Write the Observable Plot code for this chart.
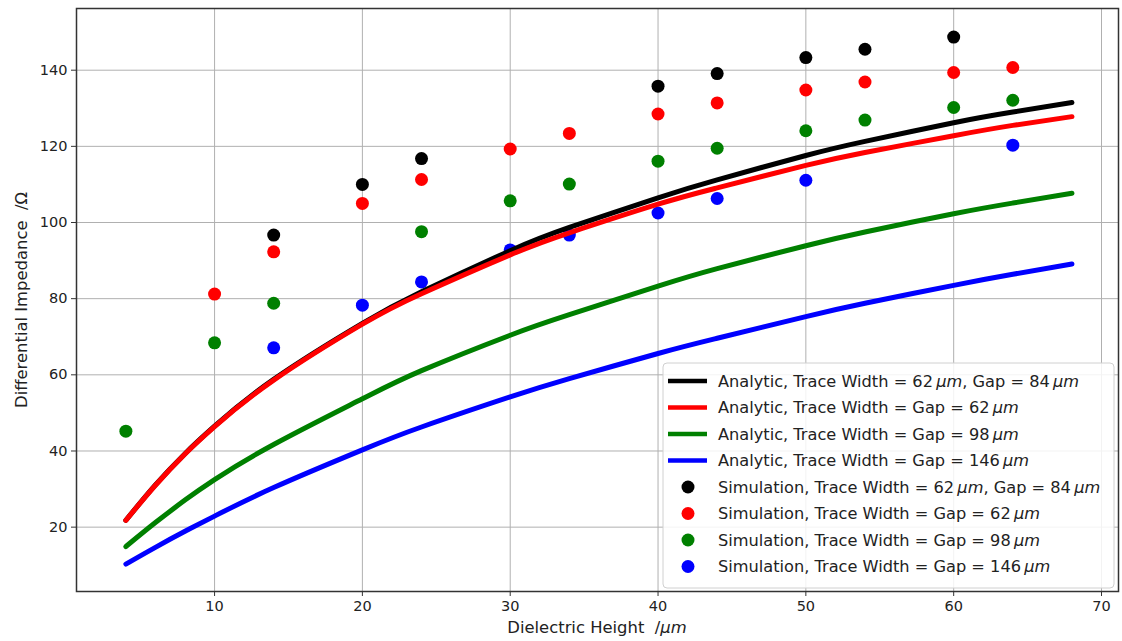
<!DOCTYPE html>
<html>
<head>
<meta charset="utf-8">
<script src="https://cdn.jsdelivr.net/npm/d3@7"></script>
<script src="https://cdn.jsdelivr.net/npm/@observablehq/plot@0.6"></script>
<style>
  html, body { margin: 0; padding: 0; background: #fff; }
  #chart { position: relative; width: 1122px; height: 641px; }
</style>
</head>
<body>
<div id="chart"></div>
<script>
// ---------- data ----------
const analyticX = [4, 6, 8, 10, 14, 20, 24, 30, 34, 40, 44, 50, 54, 60, 64, 68];
const analytic62_84 = [21.8, 31.1, 39.3, 46.5, 58.8, 73.5, 81.8, 92.6, 98.7, 106.5, 111.2, 117.6, 121.3, 126.2, 129.0, 131.5];
const analytic62 = [21.8, 31.0, 39.2, 46.4, 58.6, 73.3, 81.3, 91.5, 97.3, 104.8, 109.1, 115.0, 118.4, 122.8, 125.5, 127.8];
const analytic98 = [14.9, 21.2, 27.1, 32.5, 41.7, 53.7, 61.1, 70.4, 75.8, 83.3, 87.9, 93.9, 97.5, 102.3, 105.1, 107.7];
const analytic146 = [10.3, 14.7, 18.9, 22.9, 30.4, 40.3, 46.3, 54.2, 59.0, 65.6, 69.6, 75.3, 78.8, 83.5, 86.4, 89.1];

const sim62_84_x = [14, 20, 24, 40, 44, 50, 54, 60];
const sim62_84_y = [96.7, 110.0, 116.8, 135.8, 139.1, 143.3, 145.5, 148.7];
const sim62_x = [10, 14, 20, 24, 30, 34, 40, 44, 50, 54, 60, 64];
const sim62_y = [81.2, 92.3, 105.0, 111.3, 119.3, 123.4, 128.5, 131.4, 134.8, 136.9, 139.4, 140.7];
const sim98_x = [4, 10, 14, 24, 30, 34, 40, 44, 50, 54, 60, 64];
const sim98_y = [45.2, 68.4, 78.8, 97.6, 105.7, 110.1, 116.1, 119.5, 124.1, 126.9, 130.2, 132.1];
const sim146_x = [14, 20, 24, 30, 34, 40, 44, 50, 64];
const sim146_y = [67.1, 78.3, 84.4, 92.8, 96.7, 102.5, 106.3, 111.1, 120.3];

const xTicks = [10, 20, 30, 40, 50, 60, 70];
const yTicks = [20, 40, 60, 80, 100, 120, 140];

const colors = {k: "#000000", r: "#ff0000", g: "#008000", b: "#0000ff"};

const analyticSeries = [
  {label: ["Analytic, Trace Width = 62\u2009", "μm", ", Gap = 84\u2009", "μm"], color: colors.k, y: analytic62_84},
  {label: ["Analytic, Trace Width = Gap = 62\u2009", "μm"], color: colors.r, y: analytic62},
  {label: ["Analytic, Trace Width = Gap = 98\u2009", "μm"], color: colors.g, y: analytic98},
  {label: ["Analytic, Trace Width = Gap = 146\u2009", "μm"], color: colors.b, y: analytic146}
];
const simSeries = [
  {label: ["Simulation, Trace Width = 62\u2009", "μm", ", Gap = 84\u2009", "μm"], color: colors.k, x: sim62_84_x, y: sim62_84_y},
  {label: ["Simulation, Trace Width = Gap = 62\u2009", "μm"], color: colors.r, x: sim62_x, y: sim62_y},
  {label: ["Simulation, Trace Width = Gap = 98\u2009", "μm"], color: colors.g, x: sim98_x, y: sim98_y},
  {label: ["Simulation, Trace Width = Gap = 146\u2009", "μm"], color: colors.b, x: sim146_x, y: sim146_y}
];

const lineRows = analyticSeries.flatMap(s => analyticX.map((x, i) => ({x, y: s.y[i], color: s.color, key: s.label.join("")})));
const dotRows = simSeries.flatMap(s => s.x.map((x, i) => ({x, y: s.y[i], color: s.color})));

// ---------- plot ----------
const FONT = "DejaVu Sans, sans-serif";
const plot = Plot.plot({
  width: 1122,
  height: 641,
  marginLeft: 76,
  marginRight: 4,
  marginTop: 8,
  marginBottom: 50,
  style: {fontFamily: FONT, background: "#fff", color: "#222"},
  x: {domain: [0.66, 71.15], label: null},
  y: {domain: [3.1, 156.2], label: null},
  marks: [
    Plot.gridX(xTicks, {stroke: "#b0b0b0", strokeOpacity: 1, strokeWidth: 1}),
    Plot.gridY(yTicks, {stroke: "#b0b0b0", strokeOpacity: 1, strokeWidth: 1}),
    Plot.dot(dotRows, {x: "x", y: "y", r: 6.5, fill: "color", stroke: "none"}),
    Plot.line(lineRows, {x: "x", y: "y", z: "key", stroke: "color", strokeWidth: 5, curve: "natural"}),
    Plot.frame({stroke: "#333", strokeWidth: 1.5}),
    Plot.axisX(xTicks, {tickSize: 5, tickPadding: 4, fontSize: 14.5, stroke: "#333", fill: "#222"}),
    Plot.axisY(yTicks, {tickSize: 5, tickPadding: 4, fontSize: 14.5, stroke: "#333", fill: "#222"})
  ]
});
document.getElementById("chart").appendChild(plot);

// ---------- axis labels & legend ----------
const svg = d3.select(plot);

function addRich(sel, parts) {
  parts.forEach(p => {
    sel.append("tspan").text(p).attr("font-style", p === "μm" ? "italic" : null);
  });
}

const xl = svg.append("text")
  .attr("x", 597).attr("y", 633)
  .attr("text-anchor", "middle")
  .attr("font-family", FONT).attr("font-size", 16.4).attr("fill", "#222");
addRich(xl, ["Dielectric Height  /", "μm"]);

svg.append("text")
  .attr("transform", "translate(27,300) rotate(-90)")
  .attr("text-anchor", "middle")
  .attr("font-family", FONT).attr("font-size", 16.4).attr("fill", "#222")
  .text("Differential Impedance  /Ω");

const lg = svg.append("g");
lg.append("rect")
  .attr("x", 663).attr("y", 363).attr("width", 451).attr("height", 225)
  .attr("rx", 4)
  .attr("fill", "#fff").attr("fill-opacity", 0.85)
  .attr("stroke", "#d0d0d0").attr("stroke-width", 1);

const rowY0 = 381, rowStep = 26.5;
const entries = [
  ...analyticSeries.map(s => ({...s, type: "line"})),
  ...simSeries.map(s => ({...s, type: "dot"}))
];
entries.forEach((e, i) => {
  const cy = rowY0 + i * rowStep;
  if (e.type === "line") {
    lg.append("line").attr("x1", 668).attr("x2", 707).attr("y1", cy).attr("y2", cy)
      .attr("stroke", e.color).attr("stroke-width", 4.5);
  } else {
    lg.append("circle").attr("cx", 688).attr("cy", cy).attr("r", 6.5).attr("fill", e.color);
  }
  const t = lg.append("text").attr("x", 718).attr("y", cy).attr("dy", "0.35em")
    .attr("text-anchor", "start")
    .attr("font-family", FONT).attr("font-size", 16.2).attr("fill", "#222");
  addRich(t, e.label);
});
</script>
</body>
</html>
